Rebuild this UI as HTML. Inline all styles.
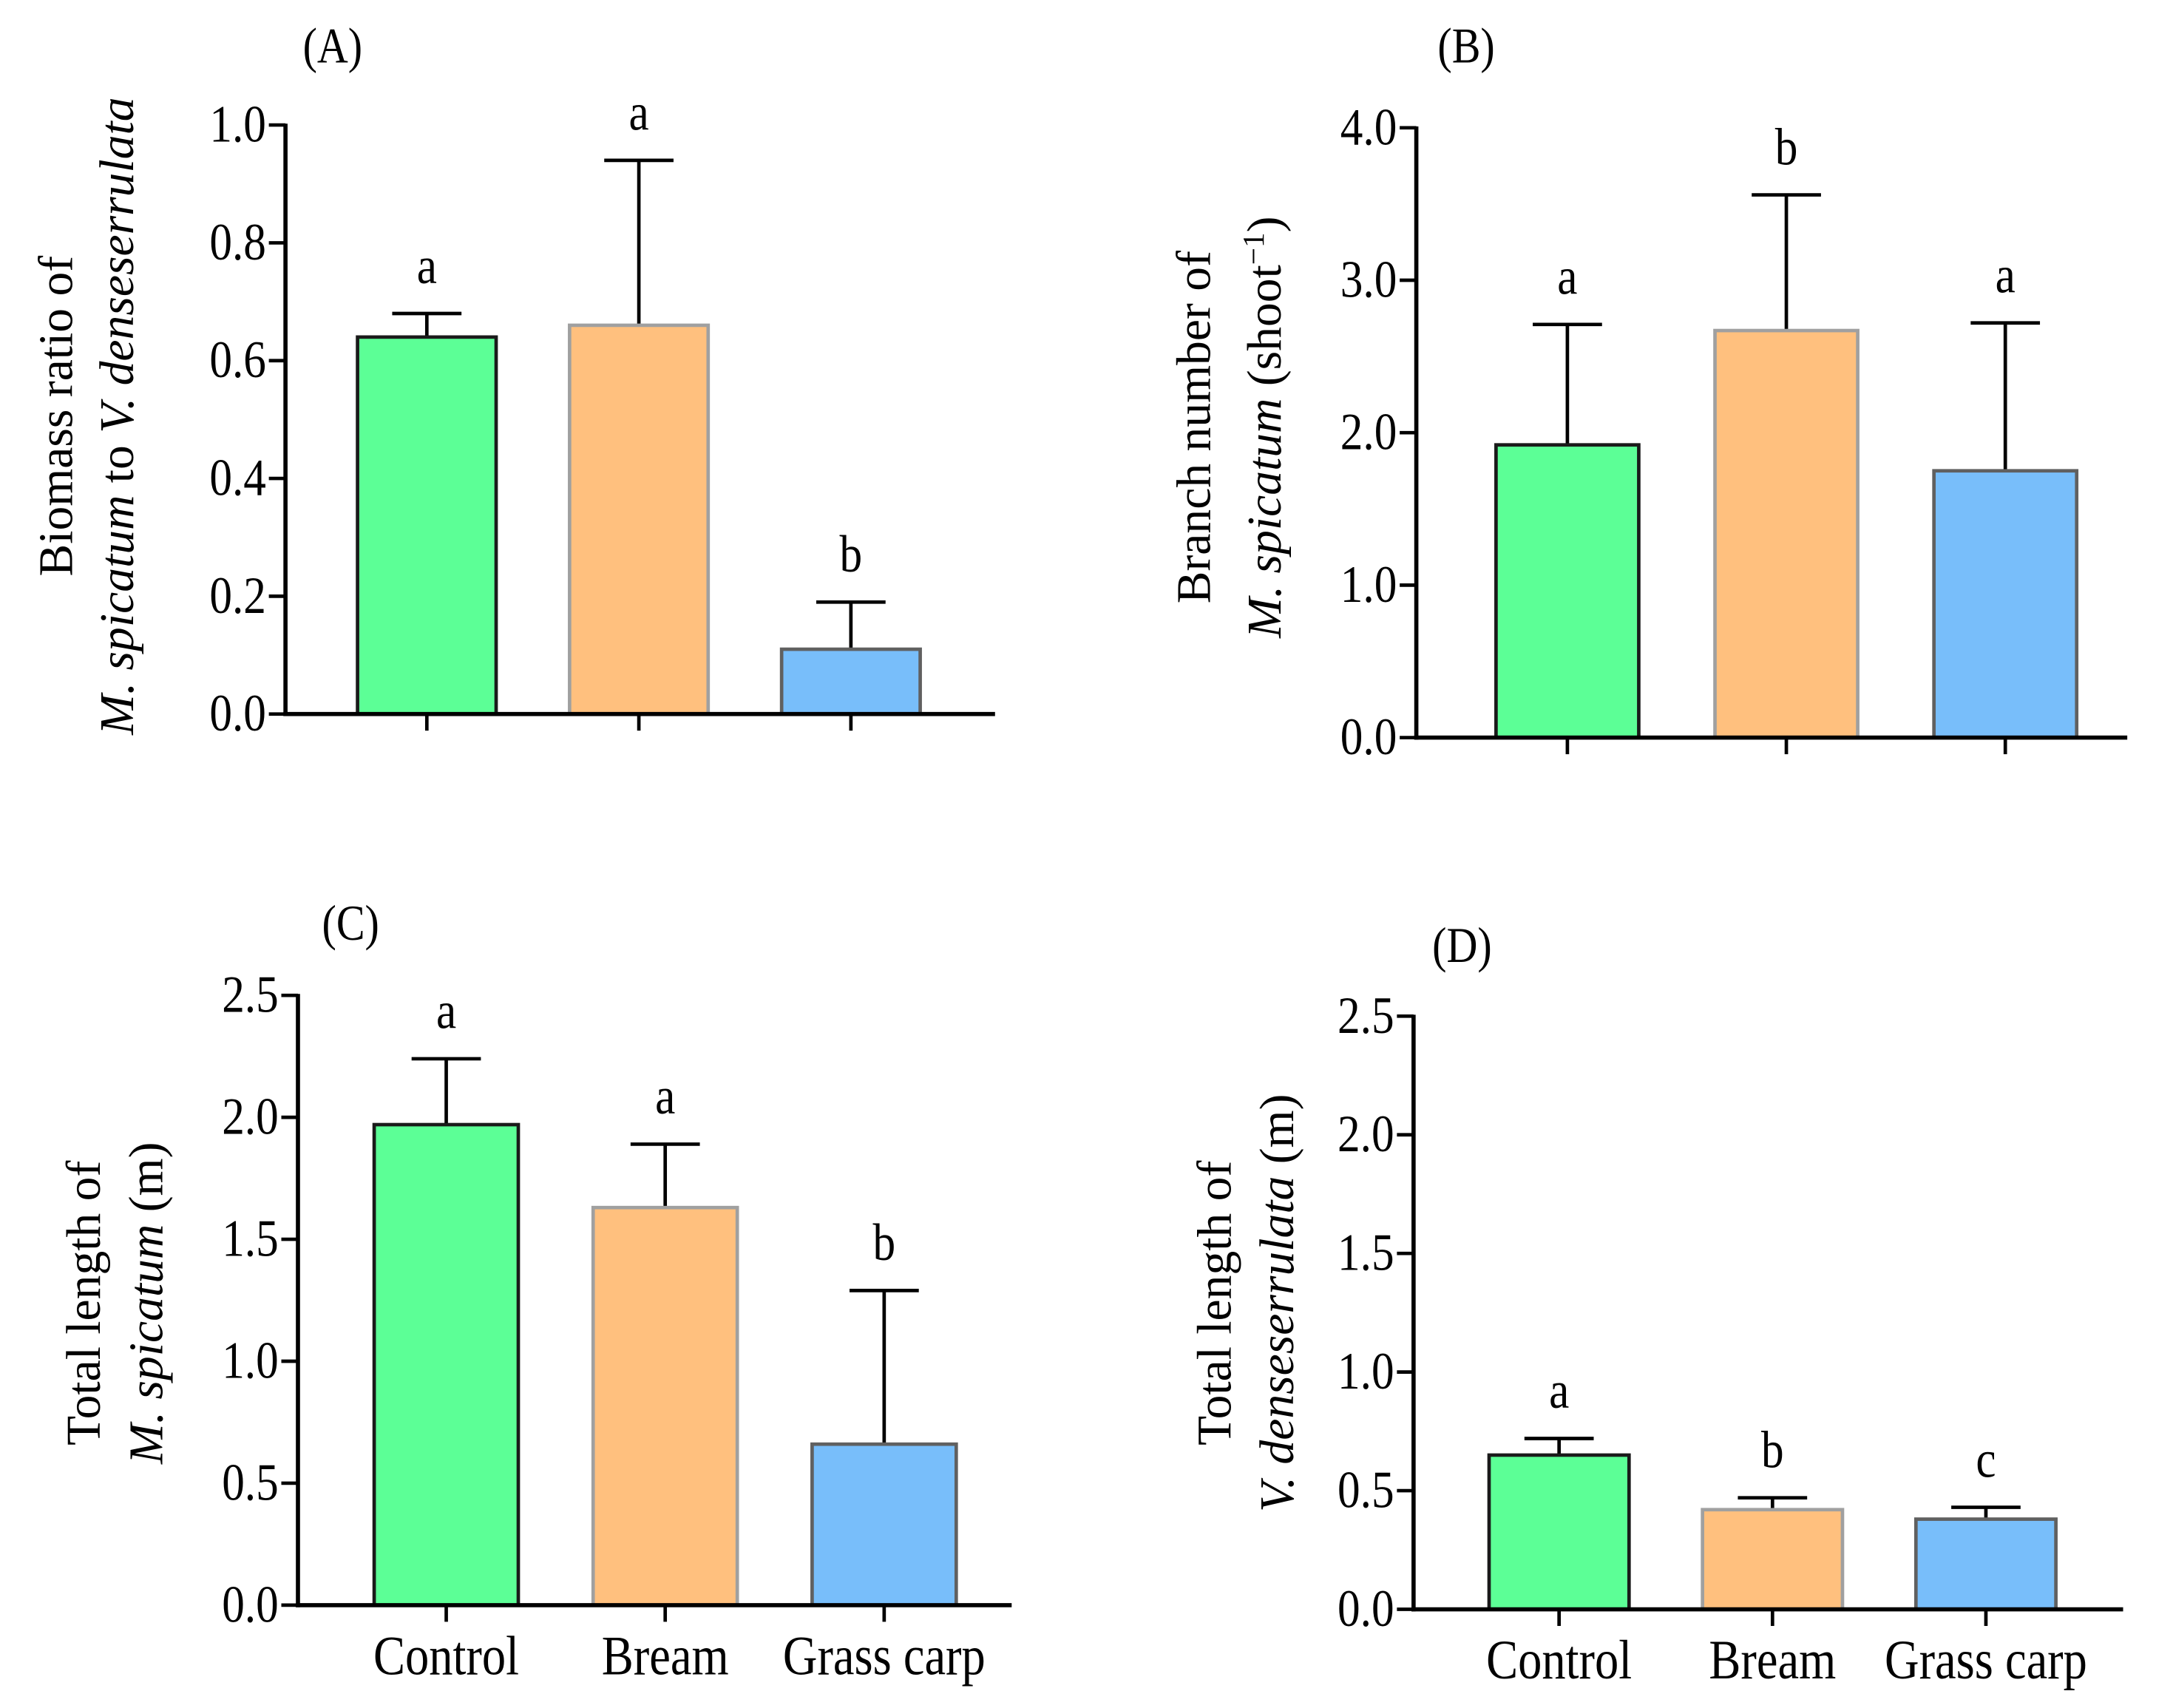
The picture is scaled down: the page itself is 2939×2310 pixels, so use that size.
<!DOCTYPE html>
<html><head><meta charset="utf-8">
<style>
html,body{margin:0;padding:0;background:#fff;}
svg{display:block;}
text{font-family:"Liberation Serif","Times New Roman",serif;fill:#000;}
</style></head>
<body>
<svg id="fig" width="2939" height="2310" viewBox="0 0 1568 1232" xmlns="http://www.w3.org/2000/svg"></svg>
<script>
const categories = ["Control","Bream","Grass carp"];
const valuesA = [0.64, 0.66, 0.11];
const errA = [0.68, 0.94, 0.19];
const lettersA = ["a","a","b"];
const ticksA = ["0.0","0.2","0.4","0.6","0.8","1.0"];
const valuesB = [1.92, 2.67, 1.75];
const errB = [2.71, 3.56, 2.72];
const lettersB = ["a","b","a"];
const ticksB = ["0.0","1.0","2.0","3.0","4.0"];
const valuesC = [1.97, 1.63, 0.66];
const errC = [2.24, 1.89, 1.29];
const lettersC = ["a","a","b"];
const ticksC = ["0.0","0.5","1.0","1.5","2.0","2.5"];
const valuesD = [0.65, 0.42, 0.38];
const errD = [0.72, 0.47, 0.43];
const lettersD = ["a","b","c"];
const ticksD = ["0.0","0.5","1.0","1.5","2.0","2.5"];

const NS = "http://www.w3.org/2000/svg";
const svg = document.getElementById("fig");
const SX = 0.86;
const fills = ["#5CFF96","#FFC07E","#78BEFA"];
const strokes = ["#1a1a1a","#a0a0a0","#606060"];

function el(tag, attrs, parent){
  const e = document.createElementNS(NS, tag);
  for (const k in attrs) e.setAttribute(k, attrs[k]);
  (parent||svg).appendChild(e);
  return e;
}
function txt(parent, x, y, s, size, anchor){
  const t = el("text", {x:(x/SX).toFixed(2), y:y, "font-size":size, "text-anchor":anchor||"middle", transform:"scale("+SX+",1)"}, parent);
  t.textContent = s;
  return t;
}

function panel(cfg){
  const g = el("g", {});
  
  
  const ymax = parseFloat(cfg.ticks[cfg.ticks.length-1]);
  const yS = v => cfg.y0 - (v/ymax)*(cfg.y0-cfg.ytop);
  const pl = txt(g, cfg.lx, cfg.ly, cfg.label, 36);
  
  
  for (let i=0;i<categories.length;i++){
    const cx = cfg.cx[i];
    const top = yS(cfg.values[i]);
    const et = yS(cfg.err[i]);
    const eb = el("line", {x1:cx, x2:cx, y1:top, y2:et, stroke:"#000", "stroke-width":2.5}, g);
    
    
    el("line", {x1:cx-25, x2:cx+25, y1:et, y2:et, stroke:"#000", "stroke-width":2.5}, g);
    const r = el("rect", {x:cx-cfg.bw/2, y:top, width:cfg.bw, height:cfg.y0-top, fill:fills[i], stroke:strokes[i], "stroke-width":2.5}, g);
    
    
    const lt = txt(g, cx, et-22, cfg.letters[i], 38);
    
    
    el("line", {x1:cx, x2:cx, y1:cfg.y0, y2:cfg.y0+12, stroke:"#000", "stroke-width":2.5}, g);
    if (cfg.cats){
      const c = txt(g, cx, cfg.y0+50, categories[i], 40);
      
      
    }
  }
  const ya = el("line", {x1:cfg.ax, x2:cfg.ax, y1:cfg.ytop-1, y2:cfg.y0+1.5, stroke:"#000", "stroke-width":3}, g);
  
  
  const xa = el("line", {x1:cfg.ax-1.5, x2:cfg.xend, y1:cfg.y0, y2:cfg.y0, stroke:"#000", "stroke-width":3}, g);
  
  
  cfg.ticks.forEach(tk=>{
    const y = yS(parseFloat(tk));
    el("line", {x1:cfg.ax-12, x2:cfg.ax, y1:y, y2:y, stroke:"#000", "stroke-width":2.5}, g);
    const t = txt(g, cfg.ax-14, y+12, tk, 38, "end");
    
    
  });
  const tg = el("g", {transform:"rotate(-90)"}, g);
  
  
  cfg.title.forEach((line, j)=>{
    const t = el("text", {x:-cfg.tcy, y:cfg.tx[j], "font-size":35, "text-anchor":"middle"}, tg);
    line.forEach(seg=>{
      const s = el("tspan", {}, t);
      if (seg.i) s.setAttribute("font-style","italic");
      if (seg.sup){ s.setAttribute("baseline-shift","super"); s.setAttribute("font-size","22"); }
      s.textContent = seg.t;
    });
  });
}

panel({name:"panel-a", label:"(A)", lx:240, ly:45, ax:206, y0:515, ytop:90, xend:718, cx:[308,461,614], bw:100,
  values:valuesA, err:errA, letters:lettersA, ticks:ticksA, cats:false, tcy:300, tx:[52,96],
  title:[[{t:"Biomass ratio of"}],[{t:"M. spicatum",i:1},{t:"  to "},{t:"V. denseserrulata",i:1}]]});
panel({name:"panel-b", label:"(B)", lx:1058, ly:45, ax:1022, y0:532, ytop:92, xend:1535, cx:[1131,1289,1447], bw:103,
  values:valuesB, err:errB, letters:lettersB, ticks:ticksB, cats:false, tcy:308, tx:[873,924],
  title:[[{t:"Branch number of"}],[{t:"M. spicatum",i:1},{t:" (shoot"},{t:"\u22121",sup:1},{t:")"}]]});
panel({name:"panel-c", label:"(C)", lx:253, ly:678, ax:215, y0:1158, ytop:718, xend:730, cx:[322,480,638], bw:104,
  values:valuesC, err:errC, letters:lettersC, ticks:ticksC, cats:true, tcy:940, tx:[72,117],
  title:[[{t:"Total length of"}],[{t:"M. spicatum",i:1},{t:" (m)"}]]});
panel({name:"panel-d", label:"(D)", lx:1055, ly:694, ax:1020, y0:1161, ytop:733, xend:1532, cx:[1125,1279,1433], bw:101,
  values:valuesD, err:errD, letters:lettersD, ticks:ticksD, cats:true, tcy:940, tx:[888,933],
  title:[[{t:"Total length of"}],[{t:"V. denseserrulata",i:1},{t:" (m)"}]]});
</script>
</body></html>
